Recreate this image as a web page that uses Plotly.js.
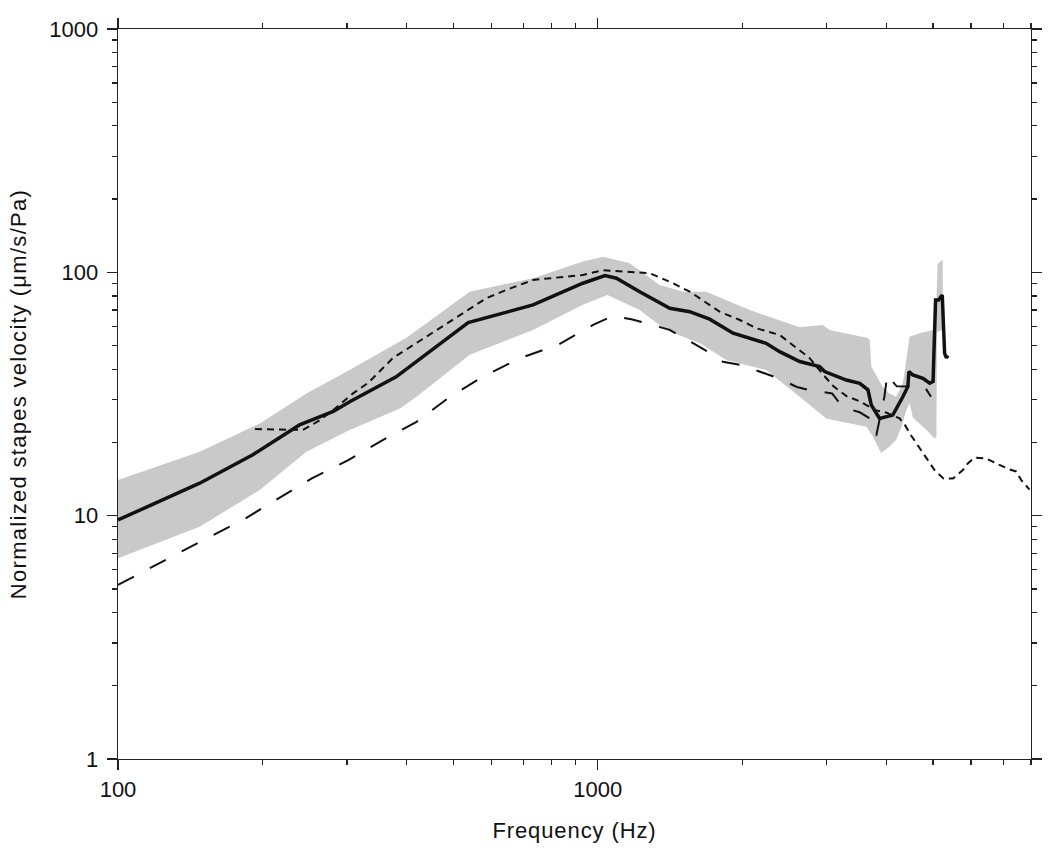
<!DOCTYPE html>
<html>
<head>
<meta charset="utf-8">
<script src="https://cdn.plot.ly/plotly-3.0.1.min.js"></script>
<style>
html,body{margin:0;padding:0;background:#fff;}
.xtitle{letter-spacing:0.9px;}
.ytitle{letter-spacing:1.3px;}
</style>
</head>
<body>
<div id="chart" style="width:1050px;height:857px;"></div>
<script>
// Mean (solid)
const solidF = [100,148,191,239,281,304,380,537,733,931,1035,1094,1223,1413,1555,1711,1915,2244,2394,2636,2900,2972,3297,3516,3658,3717,3868,4121,4325,4430,4452,4536,4762,4920,5000,5060,5130,5225,5285,5330,5370];
const solidV = [9.6,13.6,17.8,23.6,26.8,29.4,37.2,62.1,73.5,90.2,96.9,94.6,83.3,71.2,68.9,64.2,56.2,51.1,47.2,43.0,41.0,39.1,36.1,35.0,32.9,28.5,25.1,25.9,30.8,33.9,39.1,37.9,36.7,35.0,35.6,77,77,80.7,46.5,44.5,45.5];

// Long-dashed series
const longF = [100,129,153,182,216,253,302,357,419,492,577,688,826,978,1076,1175,1413,1671,1824,1994,2377,2600,2760,3080,3240,3516,3690,3750,3810,3870,3960,4000,4080,4120,4200,4800,4950];
const longV = [5.19,6.78,8.07,9.6,11.8,14.2,16.9,20.5,24.3,30.8,37.3,44.4,50.3,60.8,66.2,64.2,58,48.0,42.9,41.6,36.7,33.8,32.8,31.8,27.9,26.6,25.1,22,21.5,25,31,36,33.5,35.5,34,33.9,30.8];

// Short-dashed series
const fineF = [193,243,262,281,309,332,374,440,492,550,586,645,733,931,1025,1283,1413,1555,1795,1978,2142,2394,2594,2765,2950,3100,3300,3516,3775,4000,4256,4367,4504,4667,4861,5035,5260,5500,5768,5908,6097,6450,6855,7213,7450,7635,7943];
const fineV = [22.7,22.5,24.5,27.2,31.8,35.1,44.4,54.4,62.7,72.3,78.3,84.7,93.0,97.6,102,99.2,91.5,83.3,68.9,63.7,58.9,55.3,48.7,44.4,38,34,31,29.5,27.2,26.5,25.1,23.6,21.3,19.2,16.9,15.4,14.2,14.2,15.4,16.4,17.3,17.2,16.2,15.5,15.2,14.0,12.8];

// Shaded range (upper and lower edges)
const bandUpperF = [100,148,198,247,304,400,541,733,931,1025,1166,1346,1507,1683,2075,2636,2944,3044,3658,3690,3717,3926,4055,4188,4325,4400,4467,4688,4995,5060,5110,5150,5236];
const bandUpperV = [14.0,18.3,24.0,31.8,39.7,54,83.3,94.6,110.7,116,109,88.8,83.3,83.3,70,59.5,60.8,58,53.7,52.5,41,33.9,31.8,30.8,35,45,54.4,56.2,58,59,108,110,112.5];
const bandLowerF = [100,148,198,247,304,387,419,541,733,931,1048,1223,1387,1633,1853,2244,2636,2993,3092,3631,3746,3897,4055,4188,4295,4397,4467,4536,4842,5032,5080,5095,5245];
const bandLowerV = [6.68,9.0,12.8,18.3,22.5,27.6,30.8,45.8,58,73.5,80.7,70,58,51.1,43.6,39.7,30.8,25.1,24.7,23.2,21.1,18.1,19.2,20.5,23.2,27.2,29.0,25.4,22.5,20.8,21,57,58];

// Axis ticks
const xTickVals = [100,1000];
const xTickText = ['100','1000'];
const xMinorVals = [200,300,400,500,600,700,800,900,2000,3000,4000,5000,6000,7000,8000];
const yTickVals = [1,10,100,1000];
const yTickText = ['1','10','100','1000'];
const yMinorVals = [2,3,4,5,6,7,8,9,20,30,40,50,60,70,80,90,200,300,400,500,600,700,800,900];

const bandX = bandUpperF.concat(bandLowerF.slice().reverse());
const bandY = bandUpperV.concat(bandLowerV.slice().reverse());

const traces = [
  {x: bandX, y: bandY, type: 'scatter', mode: 'lines', fill: 'toself',
   fillcolor: '#c9c9c9', line: {width: 0, color: '#c9c9c9'}, hoverinfo: 'skip', showlegend: false},
  {x: longF, y: longV, type: 'scatter', mode: 'lines',
   line: {color: '#111', width: 2, dash: '18px,18px'}, showlegend: false},
  {x: fineF, y: fineV, type: 'scatter', mode: 'lines',
   line: {color: '#111', width: 2, dash: '7px,5px'}, showlegend: false},
  {x: solidF, y: solidV, type: 'scatter', mode: 'lines',
   line: {color: '#111', width: 3.5}, showlegend: false}
];

const fontFam = '"Liberation Sans", Arial, sans-serif';
const axisCommon = {
  type: 'log', showgrid: false, zeroline: false,
  showline: true, linecolor: '#222', linewidth: 1.3, mirror: 'ticks',
  ticks: 'outside', ticklen: 10, tickwidth: 1.3, tickcolor: '#222',
  tickfont: {family: fontFam, size: 22, color: '#111'},
  tickmode: 'array'
};

const layout = {
  width: 1050, height: 857,
  margin: {l: 118, r: 19, t: 29, b: 98},
  paper_bgcolor: '#fff', plot_bgcolor: '#fff',
  showlegend: false,
  xaxis: Object.assign({}, axisCommon, {
    range: [2, Math.log10(8000)],
    tickvals: xTickVals, ticktext: xTickText,
    minor: {tickmode: 'array', tickvals: xMinorVals, ticks: 'outside', ticklen: 5, tickwidth: 1.3, tickcolor: '#222'},
    title: {text: 'Frequency (Hz)', font: {family: fontFam, size: 22, color: '#111'}, standoff: 22}
  }),
  yaxis: Object.assign({}, axisCommon, {
    range: [0, 3],
    tickvals: yTickVals, ticktext: yTickText,
    ticklabelstandoff: 4,
    minor: {tickmode: 'array', tickvals: yMinorVals, ticks: 'outside', ticklen: 5, tickwidth: 1.3, tickcolor: '#222'},
    title: {text: 'Normalized stapes velocity (μm/s/Pa)', font: {family: fontFam, size: 22, color: '#111'}, standoff: 16}
  })
};

Plotly.newPlot('chart', traces, layout, {displayModeBar: false, staticPlot: true});
</script>
</body>
</html>
